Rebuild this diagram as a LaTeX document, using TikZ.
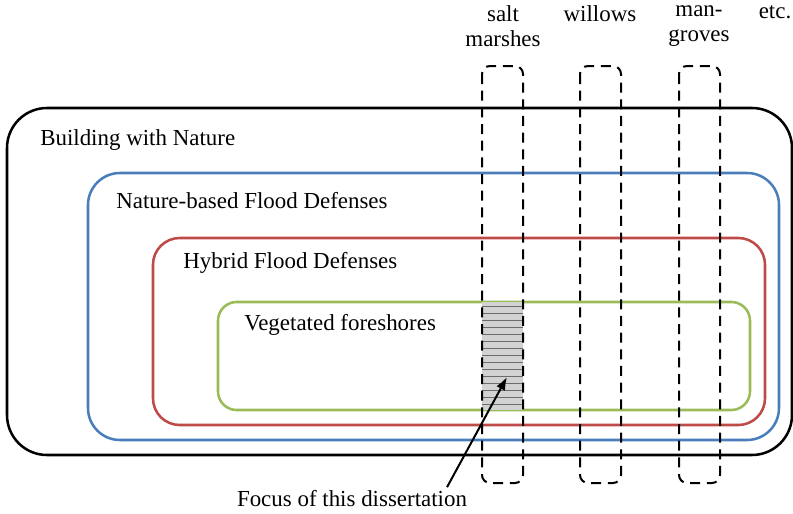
\documentclass[tikz,border=0pt]{standalone}
\usepackage{fontspec}
\setmainfont{Liberation Serif}
\usetikzlibrary{arrows.meta,positioning,calc}
\definecolor{bwnblue}{HTML}{4A7EBB}
\definecolor{hybred}{HTML}{BE4B48}
\definecolor{veggreen}{HTML}{9BBB59}

\begin{document}
\begin{tikzpicture}[x=0.75pt,y=-0.75pt,>=Latex,font=\fontsize{17.2}{19}\selectfont,
    txt/.style={inner sep=0pt,anchor=west},
    top/.style={inner sep=0pt,align=center,anchor=north},
    column/.style={dashed,line width=1.5pt,dash pattern=on 7.5pt off 5pt,rounded corners=6pt}]
    \useasboundingbox (0,0) rectangle (793,514);
    % nested boxes
    \draw[line width=1.9pt,rounded corners=30pt] (7,108) rectangle (792,455);
    \draw[bwnblue,line width=1.9pt,rounded corners=24pt] (88,173) rectangle (779,440);
    \draw[hybred,line width=1.9pt,rounded corners=20pt] (153,238) rectangle (765,425);
    \draw[veggreen,line width=1.9pt,rounded corners=14pt] (218,302) rectangle (750,410);
    % focus area
    \fill[gray!35] (482,302) rectangle (523,410);
    \foreach \y in {306,313,...,406}
      \draw[gray!85!black,line width=0.5pt] (482,\y) -- (523,\y);
    % vegetation columns
    \draw[column] (482,66) rectangle (523,483);
    \draw[column] (580,66) rectangle (621,483);
    \draw[column] (679,66) rectangle (720,483);
    \node[txt] (bwn) at (40,140) {Building with Nature};
    \node[txt] (nbfd) at (116,201) {Nature-based Flood Defenses};
    \node[txt] (hfd) at (183,263) {Hybrid Flood Defenses};
    \node[txt] (veg) at (244,325) {Vegetated foreshores};
    \node[top] (salt) at (503,5) {salt\\marshes};
    \node[top] (will) at (600,5) {willows};
    \node[top] (mang) at (699,5) {man-\\groves};
    \node[top] (etc) at (775,5) {etc.};
    \node[inner sep=1pt] (focus) at (352,499) {Focus of this dissertation};
    \coordinate (tip) at (507,377);
    \draw[->,line width=1.5pt] (focus.north -| 447,0) ++(0,-2) -- (tip);
  \end{tikzpicture}
\end{document}
